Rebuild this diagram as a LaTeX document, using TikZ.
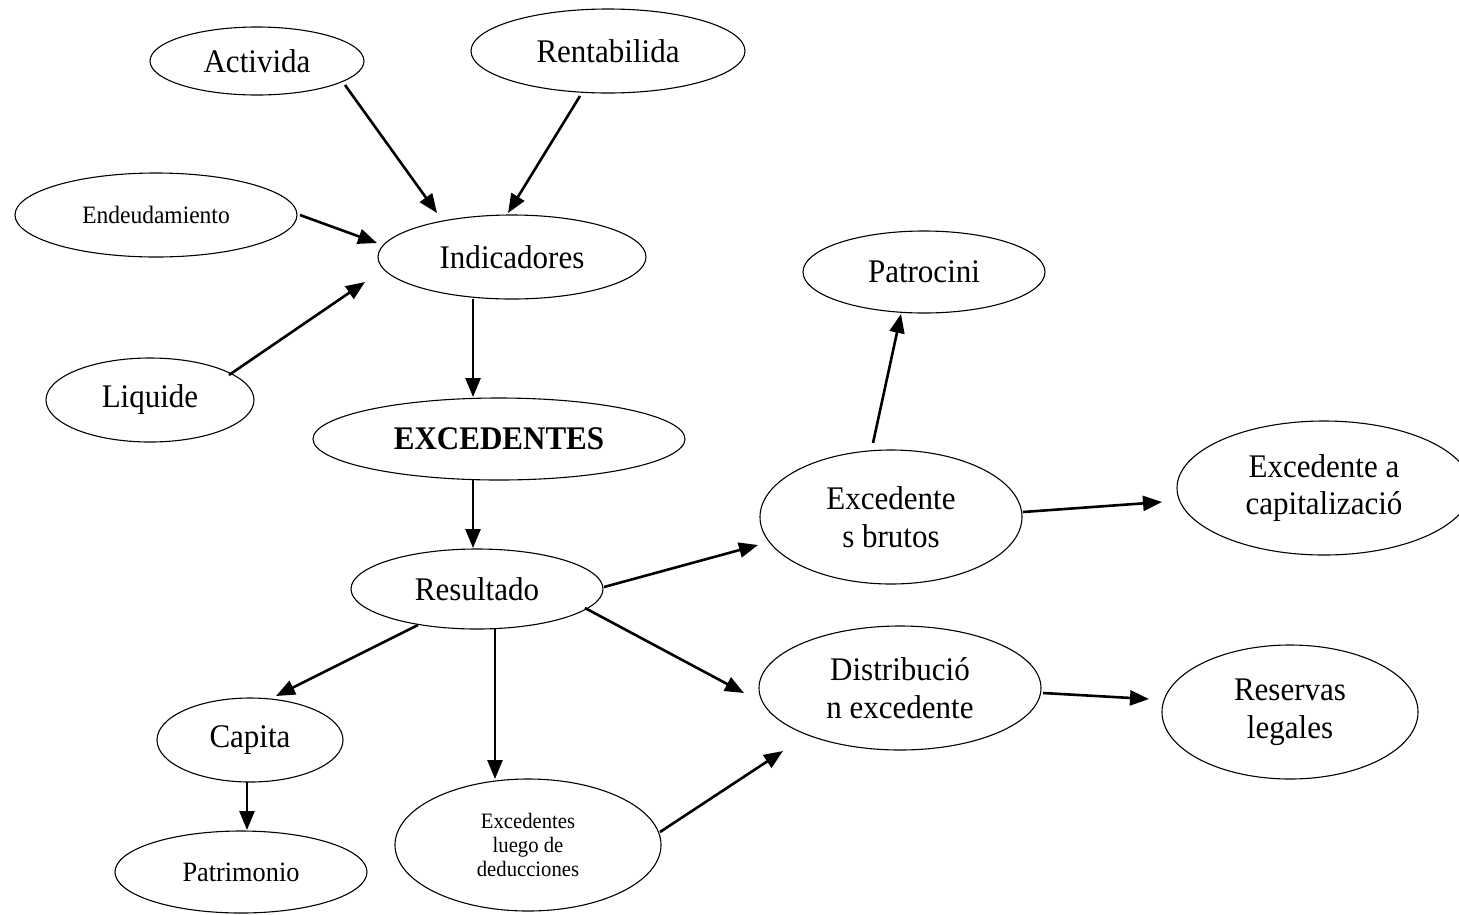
\documentclass[tikz,border=0pt]{standalone}
\usepackage{fontspec}
\setmainfont{Liberation Serif}[FakeStretch=0.94]
\usetikzlibrary{shapes.geometric,arrows.meta,calc}
\begin{document}
\begin{tikzpicture}[x=1pt,y=-1pt,
  oval/.style={draw=black,line width=1.1pt,ellipse,inner sep=0pt,align=center,
    font=\fontsize{33}{37.5}\selectfont},
  arr/.style={line width=2.6pt,-{Triangle[length=19pt,width=15pt]}}]
\useasboundingbox (0,0) rectangle (1459,914);
\clip (0,0) rectangle (1459,914);
\node[oval,minimum width=214,minimum height=68] (act) at (257,61) {Activida};
\node[oval,minimum width=274,minimum height=84] (ren) at (608,51) {Rentabilida};
\node[oval,minimum width=282,minimum height=84,font=\fontsize{25}{28}\selectfont] (end) at (156,215) {Endeudamiento};
\node[oval,minimum width=268,minimum height=84] (ind) at (512,257) {Indicadores};
\node[oval,minimum width=208,minimum height=84] (liq) at (150,400) {Liquide};
\node[oval,minimum width=372,minimum height=82,font=\fontsize{33}{37.5}\selectfont\bfseries] (exc) at (499,439) {EXCEDENTES};
\node[oval,minimum width=252,minimum height=80] (res) at (477,589) {Resultado};
\node[oval,minimum width=242,minimum height=82] (pat) at (924,272) {Patrocini};
\node[oval,minimum width=262,minimum height=134] (bru) at (891,517) {Excedente\\s brutos};
\node[oval,minimum width=294,minimum height=134] (cap2) at (1324,488) {Excedente a\\capitalizació};
\node[oval,minimum width=282,minimum height=124] (dis) at (900,688) {Distribució\\n excedente};
\node[oval,minimum width=256,minimum height=134] (rsv) at (1290,712) {Reservas\\legales};
\node[oval,minimum width=186,minimum height=84] (capita) at (250,740) {Capita};
\node[oval,minimum width=252,minimum height=82,font=\fontsize{28}{31}\selectfont] (patr) at (241,872) {Patrimonio};
\node[oval,minimum width=266,minimum height=132,font=\fontsize{22}{24}\selectfont] (lue) at (528,845) {Excedentes\\luego de\\deducciones};

\draw[arr] ($(act.center)+(88,24)$) -- ($(ind.center)+(-75,-44)$);
\draw[arr] ($(ren.center)+(-28,45)$) -- ($(ind.center)+(-4,-44)$);
\draw[arr] ($(end.center)+(144,0)$) -- ($(ind.center)+(-135,-14)$);
\draw[arr] ($(liq.center)+(79,-25)$) -- ($(ind.center)+(-147,25)$);
\draw[arr] ($(ind.center)+(-39,42)$) -- ($(exc.center)+(-26,-42)$);
\draw[arr] ($(exc.center)+(-26,41)$) -- ($(res.center)+(-4,-41)$);
\draw[arr] ($(res.center)+(127,-2)$) -- ($(bru.center)+(-133,28)$);
\draw[arr] ($(bru.center)+(-18,-74)$) -- ($(pat.center)+(-23,42)$);
\draw[arr] ($(bru.center)+(132,-5)$) -- ($(cap2.center)+(-162,14)$);
\draw[arr] ($(res.center)+(108,19)$) -- ($(dis.center)+(-156,5)$);
\draw[arr] ($(lue.center)+(132,-13)$) -- ($(dis.center)+(-117,63)$);
\draw[arr] ($(dis.center)+(143,5)$) -- ($(rsv.center)+(-141,-13)$);
\draw[arr] ($(res.center)+(-59,36)$) -- ($(capita.center)+(26,-44)$);
\draw[arr] ($(capita.center)+(-3,42)$) -- ($(patr.center)+(6,-42)$);
\draw[arr] ($(res.center)+(18,39)$) -- ($(lue.center)+(-33,-66)$);
\end{tikzpicture}
\end{document}
